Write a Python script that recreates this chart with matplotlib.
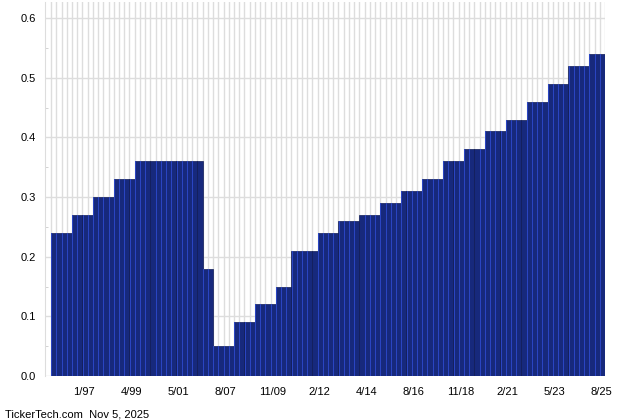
import numpy as np
import matplotlib.pyplot as plt
from matplotlib.ticker import MultipleLocator, FixedLocator

# ----- Data (quarterly dividend levels and how many bars each) ----- #
levels = [0.24, 0.27, 0.30, 0.33, 0.36, 0.18, 0.05, 0.09, 0.12, 0.15, 0.21,
          0.24, 0.26, 0.27, 0.29, 0.31, 0.33, 0.36, 0.38, 0.41, 0.43, 0.46,
          0.49, 0.52, 0.54]
counts = [4, 4, 4, 4, 13, 2, 4, 4, 4, 3, 5,
          4, 4, 4, 4, 4, 4, 4, 4, 4, 4, 4,
          4, 4, 3]
tick_labels = ['1/97', '4/99', '5/01', '8/07', '11/09', '2/12', '4/14',
               '8/16', '11/18', '2/21', '5/23', '8/25']
tick_bars = [6, 15, 24, 33, 42, 51, 60, 69, 78, 87, 96, 105]

values = np.repeat(levels, counts)
n = len(values)
x = np.arange(n)

plt.rcParams['font.family'] = ['Liberation Sans', 'DejaVu Sans']

fig = plt.figure(figsize=(6.4, 4.2), dpi=100)
ax = fig.add_axes([0.0708, 0.1048, 0.8745, 0.8904])

# bars: dark navy with a brighter blue stripe on the left edge
ax.bar(x, values, width=1.0, color='#17297c', edgecolor='#0e1a55', linewidth=0.5, zorder=3)
ax.bar(x - 0.38, values, width=0.18, color='#2a45c2', linewidth=0, zorder=4)

ax.set_xlim(-1.6, n - 0.5)
ax.set_ylim(0, 0.627)

# grid: horizontal every 0.1, vertical at every bar boundary
ax.yaxis.set_major_locator(MultipleLocator(0.1))
ax.yaxis.set_minor_locator(MultipleLocator(0.05))
ax.yaxis.set_major_formatter(plt.FuncFormatter(lambda v, p: '%.1f' % v))
ax.xaxis.set_minor_locator(FixedLocator(np.arange(-0.5, n, 1.0)))
ax.xaxis.set_major_locator(FixedLocator([b - 0.2 for b in tick_bars]))
ax.set_xticklabels(tick_labels)

ax.grid(True, which='major', axis='y', color='#dddddd', linewidth=1.0, zorder=0)
ax.grid(True, which='minor', axis='x', color='#dddddd', linewidth=1.0, zorder=0)

ax.tick_params(axis='x', which='both', length=0, labelsize=8, pad=8)
ax.tick_params(axis='y', which='major', length=0, labelsize=8, pad=7)
ax.tick_params(axis='y', which='minor', length=2, direction='in', color='#cccccc')

for side in ['top', 'right', 'bottom']:
    ax.spines[side].set_visible(False)
ax.spines['left'].set_color('#dddddd')

fig.text(0.008, 0.006, 'TickerTech.com  Nov 5, 2025', fontsize=8, color='#000000')

fig.savefig('out.png', dpi=100)
